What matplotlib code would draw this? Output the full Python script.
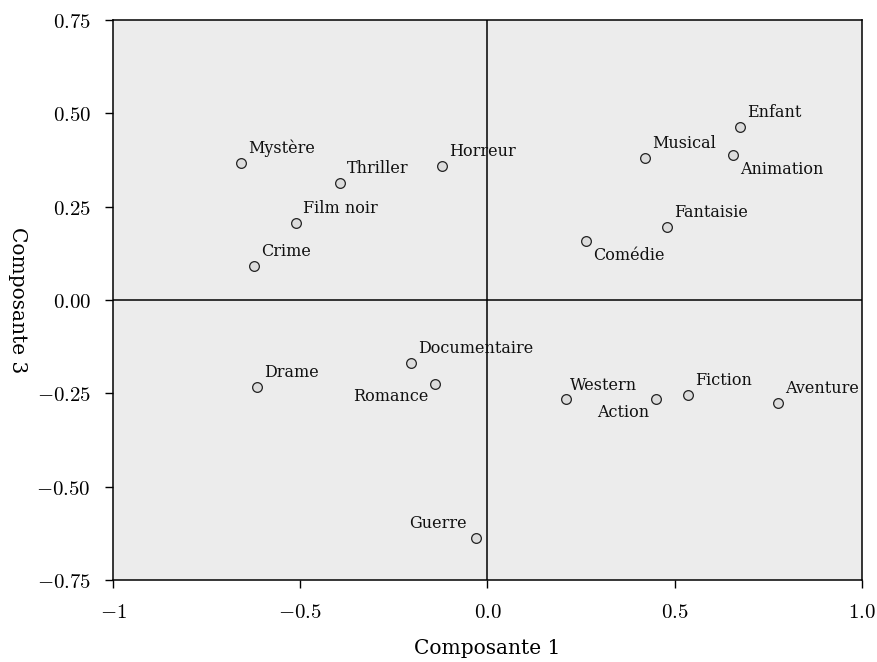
import matplotlib
matplotlib.use("Agg")
import matplotlib.pyplot as plt

genres = ["Mystère", "Thriller", "Horreur", "Film noir", "Crime", "Musical", "Enfant",
          "Animation", "Fantaisie", "Comédie", "Drame", "Documentaire", "Romance",
          "Western", "Action", "Fiction", "Aventure", "Guerre"]
comp1 = [-0.658, -0.394, -0.121, -0.511, -0.623, 0.421, 0.674, 0.656, 0.479, 0.263,
         -0.616, -0.204, -0.140, 0.210, 0.450, 0.535, 0.776, -0.031]
comp3 = [0.367, 0.313, 0.359, 0.206, 0.091, 0.380, 0.463, 0.388, 0.196, 0.158,
         -0.233, -0.169, -0.225, -0.265, -0.265, -0.254, -0.276, -0.638]

xticks = [-1, -0.5, 0, 0.5, 1]
xticklabels = ["$-1$", "$-0.5$", "$0.0$", "$0.5$", "$1.0$"]
yticks = [-0.75, -0.5, -0.25, 0, 0.25, 0.5, 0.75]
yticklabels = ["$-0.75$", "$-0.50$", "$-0.25$", "$0.00$", "$0.25$", "$0.50$", "$0.75$"]

# label placement (pixel offsets, alignment)
UR = ((7, 6), "left", "bottom")
placement = {
    "Comédie": ((7, -6), "left", "top"),
    "Animation": ((7, -6), "left", "top"),
    "Romance": ((-7, -4), "right", "top"),
    "Action": ((-7, -5), "right", "top"),
    "Guerre": ((-9, 6), "right", "bottom"),
    "Western": ((4, 5), "left", "bottom"),
}

plt.rcParams["mathtext.fontset"] = "cm"
fig = plt.figure(figsize=(8.78, 6.62), dpi=100)
ax = fig.add_axes([113 / 878, 1 - 580 / 662, (862 - 113) / 878, (580 - 20) / 662])
ax.set_facecolor("#ececec")
ax.set_xlim(-1, 1)
ax.set_ylim(-0.75, 0.75)
ax.axhline(0, color="black", lw=1.1, zorder=1)
ax.axvline(0, color="black", lw=1.1, zorder=1)

ax.plot(comp1, comp3, linestyle="none", marker="o", markersize=7,
        markerfacecolor="#dcdcdc", markeredgecolor="#222222", markeredgewidth=0.9, zorder=3)

for name, x, y in zip(genres, comp1, comp3):
    (dx, dy), ha, va = placement.get(name, UR)
    ax.annotate(name, (x, y), xytext=(dx, dy), textcoords="offset pixels",
                ha=ha, va=va, fontsize=11.5, family="DejaVu Serif", color="#111111", zorder=4)

ax.set_xticks(xticks)
ax.set_xticklabels(xticklabels, fontsize=15)
ax.set_yticks(yticks)
ax.set_yticklabels(yticklabels, fontsize=15)
ax.tick_params(direction="out", length=6, width=1.0, pad=10, colors="black")
for s in ax.spines.values():
    s.set_linewidth(1.1)

ax.set_xlabel("Composante 1", fontsize=14.5, family="DejaVu Serif", labelpad=12)
ax.set_ylabel("Composante 3", fontsize=14.5, family="DejaVu Serif", rotation=270,
              va="center")
ax.yaxis.set_label_coords(-0.128, 0.5)

fig.savefig("out.png", dpi=100)
